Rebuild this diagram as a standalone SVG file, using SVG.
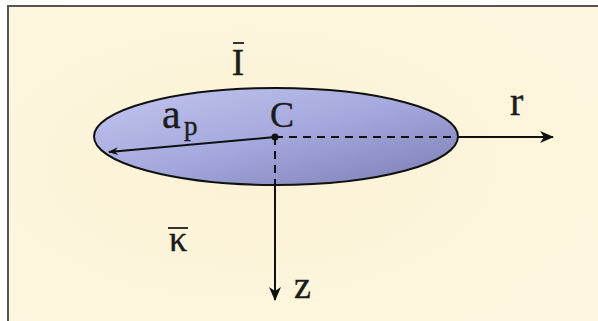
<svg xmlns="http://www.w3.org/2000/svg" width="598" height="321" viewBox="0 0 598 321">
<defs>
<linearGradient id="fill" x1="0" y1="0" x2="1" y2="1">
<stop offset="0" stop-color="#c4c7f0"/>
<stop offset="0.5" stop-color="#a4a8dc"/>
<stop offset="1" stop-color="#7a7eb2"/>
</linearGradient>
<radialGradient id="bg" cx="0.4" cy="0.5" r="0.7">
<stop offset="0" stop-color="#fcf2d6"/>
<stop offset="1" stop-color="#fdf7df"/>
</radialGradient>
<marker id="ah" viewBox="0 0 10 10" refX="9" refY="5" markerWidth="10" markerHeight="10" markerUnits="userSpaceOnUse" orient="auto">
<path d="M0,1 L10,5 L0,9 L3,5 Z" fill="#111"/>
</marker>
<marker id="ahb" viewBox="0 0 14 14" refX="13" refY="7" markerWidth="14" markerHeight="14" markerUnits="userSpaceOnUse" orient="auto">
<path d="M0,1 L14,7 L0,13 L4,7 Z" fill="#111"/>
</marker>
</defs>
<style>
.lbl{font-family:"Liberation Serif","Times New Roman",serif;fill:#1c1c1c;stroke:#1c1c1c;stroke-width:0.4}
.ax{stroke:#111;stroke-width:2;fill:none}
</style>
<rect x="0" y="0" width="598" height="321" fill="#ffffff"/>
<rect x="8" y="6" width="590" height="315" fill="url(#bg)"/>
<path d="M8,321 L8,6 L598,6" fill="none" stroke="#555" stroke-width="2"/>
<g id="ellipse">
<ellipse cx="276" cy="136.5" rx="182" ry="48.5" fill="url(#fill)" stroke="#111" stroke-width="2"/>
</g>
<g id="connectors">
<line class="ax" x1="275" y1="137" x2="109" y2="152" stroke-width="1.5" marker-end="url(#ah)"/>
<line class="ax" x1="275" y1="137" x2="458" y2="137" stroke-dasharray="8,6"/>
<line class="ax" x1="458" y1="137" x2="553" y2="137" marker-end="url(#ahb)"/>
<line class="ax" x1="275" y1="137" x2="275" y2="185" stroke-dasharray="8,6"/>
<line class="ax" x1="275" y1="185" x2="275" y2="300" marker-end="url(#ahb)"/>
<circle cx="275" cy="137" r="3.5" fill="#111"/>
</g>
<g id="labels">
<text class="lbl" x="238" y="75" font-size="37" text-anchor="middle" fill="#2e2418">I</text>
<line x1="233" y1="43" x2="244" y2="43" stroke="#333" stroke-width="2"/>
<text class="lbl" x="162" y="128" font-size="42">a</text>
<text class="lbl" x="184" y="135" font-size="27">p</text>
<text class="lbl" x="270" y="127" font-size="36">C</text>
<text class="lbl" x="510" y="115" font-size="40">r</text>
<text class="lbl" x="294" y="298" font-size="38">z</text>
<text class="lbl" x="178" y="251" font-size="36" text-anchor="middle">κ</text>
<line x1="168" y1="228" x2="188" y2="228" stroke="#333" stroke-width="2"/>
</g>
</svg>
